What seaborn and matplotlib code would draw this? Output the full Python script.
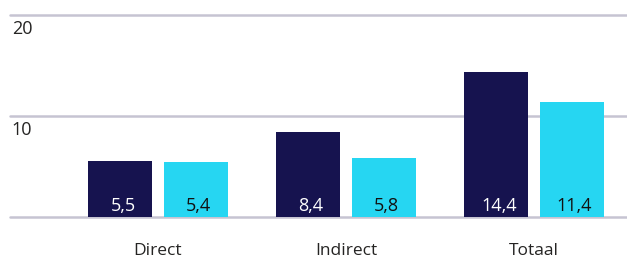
import matplotlib
matplotlib.use("Agg")
import matplotlib.pyplot as plt
import matplotlib.transforms as mtransforms
import seaborn as sns
import pandas as pd

# ========= DATA =========
categories = ["Direct", "Indirect", "Totaal"]
series_names = ["Reeks 1", "Reeks 2"]
values_1 = [5.5, 8.4, 14.4]
values_2 = [5.4, 5.8, 11.4]
y_ticks = [10, 20]

df = pd.DataFrame({
    "categorie": categories * 2,
    "reeks": [series_names[0]] * 3 + [series_names[1]] * 3,
    "waarde": values_1 + values_2,
})

# ========= STYLE =========
sns.set_style("white")
plt.rcParams["font.family"] = ["Open Sans", "DejaVu Sans"]

dark = "#16134f"
cyan = "#26d6f2"
grid_col = "#c6c4d2"
text_col = "#252423"

fig = plt.figure(figsize=(6.27, 2.59), dpi=100)
ax = fig.add_axes([10 / 627, 42 / 259, 617 / 627, 207 / 259])

sns.barplot(
    data=df, x="categorie", y="waarde", hue="reeks",
    palette=[dark, cyan], saturation=1, width=0.8, gap=0.15,
    linewidth=0, legend=False, ax=ax,
)

ax.set_xlim(-0.787, 2.495)
ax.set_ylim(0, 20.5)

# gridlines + tick labels placed under each line
trans = mtransforms.blended_transform_factory(ax.transAxes, ax.transData)
for t in [0] + y_ticks:
    ax.axhline(t, color=grid_col, lw=1.8, zorder=0, clip_on=False)
for t in y_ticks:
    ax.text(0.003, t - 0.45, str(t), transform=trans, ha="left", va="top",
            fontsize=13, color=text_col)

# value labels at bottom inside bars
for container, txt_col in zip(ax.containers, ["white", "#111111"]):
    for patch, val in zip(container.patches, container.datavalues):
        ax.annotate(
            f"{val:.1f}".replace(".", ","),
            (patch.get_x() + patch.get_width() / 2, 0),
            xytext=(2, 1.5), textcoords="offset points",
            ha="center", va="bottom", fontsize=13, color=txt_col,
        )

ax.set_yticks([])
ax.set_xlabel("")
ax.set_ylabel("")
ax.tick_params(axis="x", length=0, pad=19, labelsize=12.5, labelcolor=text_col)
for s in ax.spines.values():
    s.set_visible(False)

fig.savefig("out.png", dpi=100)
